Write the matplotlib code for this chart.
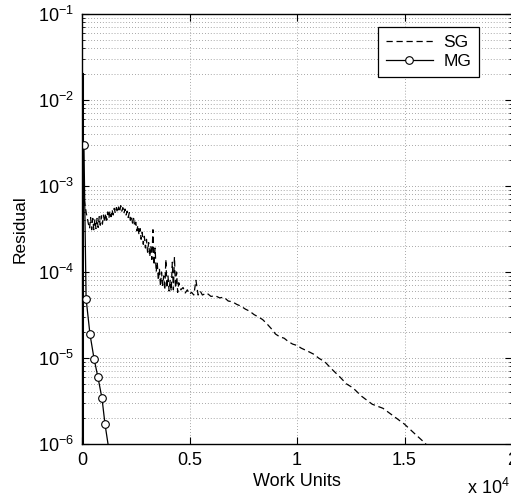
import matplotlib
matplotlib.use("Agg")
import matplotlib.pyplot as plt
from matplotlib.ticker import LogLocator, FixedLocator, NullFormatter

plt.rcParams['font.family'] = ['Liberation Sans', 'DejaVu Sans']
plt.rcParams['mathtext.fontset'] = 'custom'
plt.rcParams['mathtext.rm'] = 'Liberation Sans'
plt.rcParams['mathtext.it'] = 'Liberation Sans'
plt.rcParams['mathtext.bf'] = 'Liberation Sans'

# SG (single grid) residual history, x in units of 1e4 work units
sg_x = [0.010, 0.015, 0.020, 0.025, 0.030, 0.035, 0.040, 0.045, 0.050, 0.055,
        0.060, 0.065, 0.070, 0.075, 0.080, 0.085, 0.090, 0.095, 0.100, 0.105,
        0.110, 0.115, 0.120, 0.125, 0.130, 0.135, 0.140, 0.145, 0.150, 0.155,
        0.160, 0.165, 0.170, 0.175, 0.180, 0.185, 0.190, 0.195, 0.200, 0.205,
        0.210, 0.215, 0.220, 0.225, 0.230, 0.235, 0.240, 0.245, 0.250, 0.255,
        0.260, 0.265, 0.270, 0.275, 0.280, 0.285, 0.290, 0.295, 0.300, 0.305,
        0.310, 0.315, 0.320, 0.325, 0.330, 0.335, 0.340, 0.345, 0.350, 0.355,
        0.360, 0.365, 0.370, 0.375, 0.380, 0.385, 0.390, 0.395, 0.400, 0.405,
        0.410, 0.415, 0.420, 0.425, 0.430, 0.435, 0.440, 0.445, 0.450, 0.460,
        0.470, 0.480, 0.490, 0.500, 0.510, 0.520, 0.530, 0.540, 0.550, 0.560,
        0.580, 0.600, 0.620, 0.640, 0.660, 0.680, 0.700, 0.720, 0.740, 0.760,
        0.780, 0.800, 0.820, 0.840, 0.860, 0.880, 0.900, 0.920, 0.940, 0.960,
        0.980, 1.000, 1.020, 1.050, 1.080, 1.100, 1.130, 1.160, 1.200, 1.230,
        1.260, 1.300, 1.350, 1.400, 1.450, 1.500, 1.550, 1.600]
sg_y = [7e-4, 5.8e-4, 4.8e-4, 4.2e-4, 3.6e-4, 3.2e-4, 4.3e-4, 3.1e-4, 4.2e-4, 3.1e-4,
        4.1e-4, 3.2e-4, 4.2e-4, 3.3e-4, 4.4e-4, 3.5e-4, 4.5e-4, 3.6e-4, 4.6e-4, 3.8e-4,
        4.8e-4, 4.0e-4, 5.0e-4, 4.2e-4, 5.1e-4, 4.4e-4, 5.3e-4, 4.6e-4, 5.5e-4, 4.8e-4,
        5.6e-4, 4.9e-4, 5.7e-4, 5.0e-4, 5.9e-4, 5.1e-4, 5.6e-4, 4.8e-4, 5.4e-4, 4.6e-4,
        5.1e-4, 4.3e-4, 4.9e-4, 4.0e-4, 4.5e-4, 3.7e-4, 4.2e-4, 3.4e-4, 3.8e-4, 3.0e-4,
        3.5e-4, 2.7e-4, 3.2e-4, 2.4e-4, 2.9e-4, 2.1e-4, 2.6e-4, 1.9e-4, 2.4e-4, 1.7e-4,
        2.2e-4, 1.5e-4, 2.0e-4, 1.4e-4, 3.1e-4, 1.2e-4, 1.9e-4, 1.0e-4, 1.3e-4, 8e-5,
        1.1e-4, 6.8e-5, 1.0e-4, 7e-5, 9e-5, 6.2e-5, 1.4e-4, 6.5e-5, 9e-5, 6.0e-5,
        8e-5, 6e-5, 1.3e-4, 6.2e-5, 1.5e-4, 6.5e-5, 1.0e-4, 5.8e-5, 7.5e-5, 6.2e-5,
        6.6e-5, 5.7e-5, 6.2e-5, 5.5e-5, 5.8e-5, 5.4e-5, 8e-5, 5.4e-5, 6e-5, 5.4e-5,
        5.7e-5, 5.2e-5, 5.3e-5, 5.0e-5, 5.1e-5, 4.6e-5, 4.5e-5, 4.2e-5, 4.0e-5, 3.7e-5,
        3.5e-5, 3.2e-5, 3.0e-5, 2.8e-5, 2.5e-5, 2.2e-5, 1.9e-5, 1.76e-5, 1.7e-5, 1.55e-5,
        1.45e-5, 1.4e-5, 1.3e-5, 1.2e-5, 1.1e-5, 1.0e-5, 9e-6, 7.5e-6, 6e-6, 5e-6,
        4.5e-6, 3.6e-6, 2.9e-6, 2.6e-6, 2.1e-6, 1.7e-6, 1.3e-6, 1.0e-6]

# MG (multigrid) residual history
mg_x = [0.009, 0.019, 0.037, 0.056, 0.074, 0.093, 0.107, 0.121]
mg_y = [3e-3, 4.9e-5, 1.9e-5, 9.8e-6, 6e-6, 3.4e-6, 1.7e-6, 1.0e-6]
mg_marker_x = mg_x[:-1]
mg_marker_y = mg_y[:-1]

# initial transient along the left edge
start_x = [0.002, 0.002]
start_y = [2e-2, 1e-6]

fig = plt.figure(figsize=(5.11, 5.0), dpi=100)
ax = fig.add_axes([82/511, 56/500, 430/511, 430/500])

ax.plot(start_x, start_y, color='black', lw=2.2)
ax.plot(sg_x, sg_y, color='black', lw=0.9, ls=(0, (5, 3)), label='SG')
ax.plot(mg_x, mg_y, color='black', lw=0.9)
ax.plot(mg_marker_x, mg_marker_y, ls='none', marker='o', ms=5.5,
        mfc='white', mec='black', mew=0.8)
ax.plot([], [], color='black', lw=0.9, marker='o', ms=5.5, mfc='white',
        mec='black', mew=0.8, label='MG')

ax.set_yscale('log')
ax.set_xlim(0, 2)
ax.set_ylim(1e-6, 1e-1)
ax.xaxis.set_major_locator(FixedLocator([0, 0.5, 1, 1.5, 2]))
ax.set_xticklabels(['0', '0.5', '1', '1.5', '2'])
ax.yaxis.set_major_locator(LogLocator(base=10, numticks=10))
ax.yaxis.set_minor_locator(LogLocator(base=10, subs=range(2, 10), numticks=20))
ax.yaxis.set_minor_formatter(NullFormatter())

ax.grid(True, which='major', axis='both', color='#8a8a8a', ls=(0, (1, 2.5)), lw=0.6)
ax.grid(True, which='minor', axis='y', color='#8a8a8a', ls=(0, (1, 2.5)), lw=0.6)

ax.tick_params(which='both', direction='in', top=True, right=True, labelsize=13)
ax.tick_params(which='major', length=5, pad=6)
ax.tick_params(which='minor', length=2.5)
for s in ax.spines.values():
    s.set_linewidth(1.0)

ax.set_xlabel('Work Units', fontsize=13, labelpad=3)
ax.set_ylabel('Residual', fontsize=12.5, labelpad=7)
fig.text(0.913, 0.004, r'x 10$^4$', fontsize=13, ha='left', va='bottom')

leg = ax.legend(loc='upper right', bbox_to_anchor=(0.923, 0.970), borderaxespad=0,
                fontsize=12.5, frameon=True, fancybox=False, edgecolor='black',
                framealpha=1, handlelength=2.7, borderpad=0.45, labelspacing=0.22,
                handletextpad=0.6)
leg.get_frame().set_linewidth(0.9)

fig.savefig('out.png', dpi=100)
